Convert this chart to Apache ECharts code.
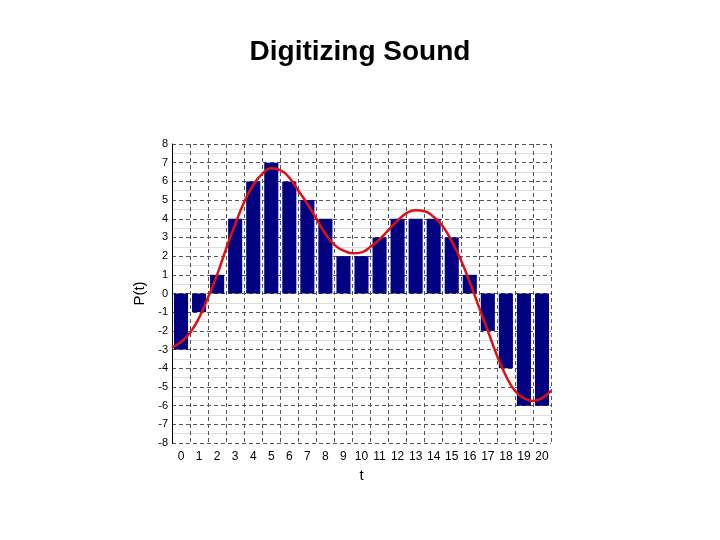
<!DOCTYPE html><html><head><meta charset="utf-8"><script src="https://cdn.jsdelivr.net/npm/echarts@6/dist/echarts.min.js"></script></head><body style="margin:0"><div id="c" style="width:720px;height:540px"></div><script>
const categories=['0','1','2','3','4','5','6','7','8','9','10','11','12','13','14','15','16','17','18','19','20'];
const samples=[-3,-1,1,4,6,7,6,5,4,2,2,3,4,4,4,3,1,-2,-4,-6,-6];
const curveT=[-0.5,0,0.5,1,1.5,2,2.5,3,3.5,4,4.5,5,5.5,6,6.5,7,7.5,8,8.5,9,9.5,10,10.5,11,11.5,12,12.5,13,13.5,14,14.5,15,15.5,16,16.5,17,17.5,18,18.5,19,19.5,20,20.5];
const curveP=[-2.9,-2.6,-2.1,-1.3,-0.2,1.0,2.4,3.7,4.9,5.8,6.4,6.7,6.6,6.2,5.5,4.8,4.0,3.2,2.6,2.3,2.15,2.2,2.5,2.9,3.4,3.9,4.3,4.45,4.4,4.1,3.6,2.8,1.8,0.6,-0.7,-2.0,-3.3,-4.4,-5.2,-5.6,-5.75,-5.6,-5.2];
const c=echarts.init(document.getElementById('c'));
const dash={show:true,lineStyle:{color:'#555',type:[4,3],width:1}};
const minor={show:true,lineStyle:{color:'#ddd',width:1}};
c.setOption({
title:{text:'Digitizing Sound',left:'center',top:33,textStyle:{fontFamily:'Liberation Sans',fontSize:28,fontWeight:'bold',color:'#000'}},
grid:{left:172,right:169,top:144,bottom:97},
xAxis:[{type:'category',data:categories,name:'t',nameLocation:'middle',nameGap:20,nameTextStyle:{fontSize:15,color:'#000'},
axisLine:{show:false},axisTick:{show:false},axisLabel:{color:'#000',fontSize:12,margin:8},splitLine:dash},
{type:'value',min:-0.5,max:20.5,show:false}],
yAxis:{type:'value',min:-8,max:8,interval:1,name:'P(t)',nameLocation:'middle',nameGap:20,nameTextStyle:{fontSize:15,color:'#000'},
axisLine:{show:true,onZero:false,lineStyle:{color:'#000'}},axisTick:{show:false},axisLabel:{color:'#000',fontSize:11,margin:4},splitLine:dash,
minorTick:{show:false,splitNumber:2},minorSplitLine:minor},
series:[{type:'bar',data:samples,barCategoryGap:'22%',itemStyle:{color:'#000080'},animation:false},
{type:'line',xAxisIndex:1,data:curveT.map((t,i)=>[t,curveP[i]]),smooth:true,symbol:'none',lineStyle:{color:'#dd1111',width:2.5},animation:false}]
});
</script></body></html>
